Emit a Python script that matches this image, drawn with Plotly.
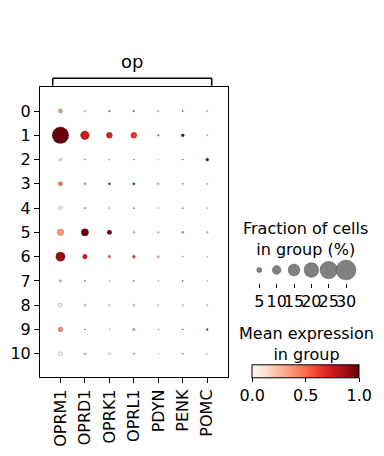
import numpy as np
import plotly.graph_objects as go

# ---------------- data ----------------
genes = ["OPRM1", "OPRD1", "OPRK1", "OPRL1", "PDYN", "PENK", "POMC"]
groups = ["0", "1", "2", "3", "4", "5", "6", "7", "8", "9", "10"]

# fraction of cells in group (%)
frac_0 = [3.5, 1.2, 1.2, 1.2, 1.0, 0.8, 1.0]
frac_1 = [23.5, 9.9, 6.0, 6.0, 1.2, 2.4, 0.8]
frac_2 = [1.8, 0.6, 0.9, 0.5, 0.5, 0.6, 2.4]
frac_3 = [3.5, 1.6, 1.6, 1.6, 1.2, 0.9, 1.0]
frac_4 = [3.2, 0.9, 0.9, 0.6, 0.6, 0.6, 0.6]
frac_5 = [6.9, 7.9, 4.1, 1.4, 1.2, 1.4, 1.2]
frac_6 = [10.9, 4.3, 1.9, 2.4, 1.4, 0.6, 0.5]
frac_7 = [1.8, 0.6, 0.6, 0.6, 0.6, 0.6, 0.6]
frac_8 = [3.5, 1.6, 1.2, 1.4, 0.9, 0.9, 0.9]
frac_9 = [4.3, 0.6, 0.6, 1.4, 0.6, 0.6, 1.4]
frac_10 = [3.5, 1.4, 1.0, 1.0, 0.5, 0.9, 0.6]

# mean expression in group (scaled 0-1)
expr_0 = [0.35, 0.15, 0.50, 0.55, 0.15, 0.70, 0.05]
expr_1 = [1.00, 0.75, 0.72, 0.65, 0.45, 0.95, 0.10]
expr_2 = [0.15, 0.60, 0.10, 0.70, 0.00, 0.70, 0.95]
expr_3 = [0.50, 0.30, 0.85, 0.90, 0.25, 0.35, 0.05]
expr_4 = [0.05, 0.70, 0.10, 0.70, 0.02, 0.70, 0.05]
expr_5 = [0.35, 1.00, 1.00, 0.20, 0.15, 0.40, 0.15]
expr_6 = [0.90, 0.72, 0.55, 0.60, 0.30, 0.15, 0.02]
expr_7 = [0.20, 0.80, 0.10, 0.70, 0.05, 0.85, 0.05]
expr_8 = [0.05, 0.10, 0.05, 0.10, 0.00, 0.10, 0.02]
expr_9 = [0.40, 0.70, 0.10, 0.50, 0.05, 0.85, 0.70]
expr_10 = [0.02, 0.15, 0.05, 0.30, 0.00, 0.30, 0.02]

frac_rows = [frac_0, frac_1, frac_2, frac_3, frac_4, frac_5, frac_6,
             frac_7, frac_8, frac_9, frac_10]
expr_rows = [expr_0, expr_1, expr_2, expr_3, expr_4, expr_5, expr_6,
             expr_7, expr_8, expr_9, expr_10]

size_legend_vals = [5, 10, 15, 20, 25, 30]
cbar_ticks = [0.0, 0.5, 1.0]
var_group_label = "op"
size_title = "Fraction of cells<br>in group (%)"
color_title = "Mean expression<br>in group"

# matplotlib / colorbrewer "Reds"
reds = ["#fff5f0", "#fee0d2", "#fcbba1", "#fc9272", "#fb6a4a",
        "#ef3b2c", "#cb181d", "#a50f15", "#67000d"]

# ---------------- layout helpers ----------------
W, H = 384, 456
ML, MR, MT, MB = 40, 4, 87, 79
PW = W - ML - MR
PH = H - MT - MB
FONT = "DejaVu Sans"
FS = 16


def px_x(p):
    return (p - ML) / PW


def px_y(p):
    return (H - MB - p) / PH


DOT_MAX = 30.0
D_MAX = 20.0


def diam(f):
    return D_MAX * (np.asarray(f, dtype=float) / DOT_MAX) ** 0.75


xs, ys, fr, ex = [], [], [], []
for g, frow, erow in zip(groups, frac_rows, expr_rows):
    for gene, f, e in zip(genes, frow, erow):
        xs.append(gene)
        ys.append(g)
        fr.append(f)
        ex.append(e)

colorscale = [[i / (len(reds) - 1), c] for i, c in enumerate(reds)]
tfont = dict(family=FONT, size=FS, color="black")

fig = go.Figure()

fig.add_trace(go.Scatter(
    x=xs, y=ys, mode="markers", xaxis="x", yaxis="y",
    marker=dict(
        size=diam(fr), color=ex, colorscale=colorscale, cmin=0, cmax=1,
        opacity=1,
        line=dict(width=0.4, color="rgba(0,0,0,0.55)"),
        showscale=True,
        colorbar=dict(
            orientation="h", x=px_x(252.3), xanchor="left",
            y=px_y(406), yanchor="bottom",
            len=107, lenmode="pixels", thickness=12.6,
            outlinewidth=1, outlinecolor="black",
            tickvals=cbar_ticks, ticktext=[f"{v:.1f}" for v in cbar_ticks],
            ticks="outside", ticklen=4, tickcolor="black",
            tickfont=tfont,
            xpad=0, ypad=0,
        ),
    ),
    hoverinfo="skip", showlegend=False,
))

# size legend
fig.add_trace(go.Scatter(
    x=list(range(len(size_legend_vals))), y=[0] * len(size_legend_vals),
    mode="markers", xaxis="x2", yaxis="y2",
    marker=dict(size=diam(size_legend_vals), color="gray", opacity=1,
                line=dict(width=0.4, color="rgba(0,0,0,0.55)")),
    hoverinfo="skip", showlegend=False,
))

leg_x0, leg_dx = 259.3, 17.35
lx_lo, lx_hi = 250, 360

fig.update_layout(
    width=W, height=H,
    margin=dict(l=ML, r=MR, t=MT, b=MB, autoexpand=False),
    paper_bgcolor="white", plot_bgcolor="white",
    font=dict(family=FONT, size=FS, color="black"),
    xaxis=dict(
        domain=[0, px_x(227.7)], type="category", automargin=False,
        categoryorder="array", categoryarray=genes,
        range=[-0.835, 6.835], tickangle=-90,
        showline=True, mirror=True, linecolor="black", linewidth=1.1,
        ticks="outside", ticklen=5, tickcolor="black",
        showgrid=False, zeroline=False,
        tickfont=tfont,
    ),
    yaxis=dict(
        domain=[0, 1], type="category", automargin=False,
        categoryorder="array", categoryarray=groups,
        range=[10.96, -0.99],
        showline=True, mirror=True, linecolor="black", linewidth=1.1,
        ticks="outside", ticklen=5, tickcolor="black",
        showgrid=False, zeroline=False,
        tickfont=tfont,
    ),
    xaxis2=dict(
        domain=[px_x(lx_lo), px_x(lx_hi)], anchor="y2", automargin=False,
        range=[(lx_lo - leg_x0) / leg_dx, (lx_hi - leg_x0) / leg_dx],
        tickvals=list(range(len(size_legend_vals))),
        ticktext=[str(v) for v in size_legend_vals],
        tickangle=0,
        ticks="outside", ticklen=4, tickcolor="black",
        showline=False, showgrid=False, zeroline=False,
        tickfont=tfont,
    ),
    yaxis2=dict(
        domain=[px_y(283), px_y(257)], anchor="x2",
        range=[-1, 1], visible=False,
    ),
    shapes=[
        dict(type="line", xref="paper", yref="paper",
             x0=px_x(52.7), x1=px_x(211.7), y0=px_y(78.3), y1=px_y(78.3),
             line=dict(color="black", width=1.6)),
        dict(type="line", xref="paper", yref="paper",
             x0=px_x(52.7), x1=px_x(52.7), y0=px_y(78.3), y1=px_y(85.7),
             line=dict(color="black", width=1.6)),
        dict(type="line", xref="paper", yref="paper",
             x0=px_x(211.7), x1=px_x(211.7), y0=px_y(78.3), y1=px_y(85.7),
             line=dict(color="black", width=1.6)),
        dict(type="line", xref="paper", yref="paper",
             x0=px_x(305.8), x1=px_x(305.8), y0=px_y(365.7), y1=px_y(378.3),
             line=dict(color="rgba(200,200,200,0.9)", width=1)),
    ],
    annotations=[
        dict(text=var_group_label, xref="paper", yref="paper",
             x=px_x(131.7), y=px_y(61), xanchor="center", yanchor="middle",
             showarrow=False, font=dict(family=FONT, size=18, color="black")),
        dict(text=size_title, xref="paper", yref="paper",
             x=px_x(305), y=px_y(238.5), xanchor="center", yanchor="middle",
             showarrow=False, font=tfont),
        dict(text=color_title, xref="paper", yref="paper",
             x=px_x(306), y=px_y(343.5), xanchor="center", yanchor="middle",
             showarrow=False, font=tfont),
    ],
)

fig.write_html("out.html",
               config={"displayModeBar": False},
               post_script="document.body.style.margin='0';"
                           "document.body.style.padding='0';")
